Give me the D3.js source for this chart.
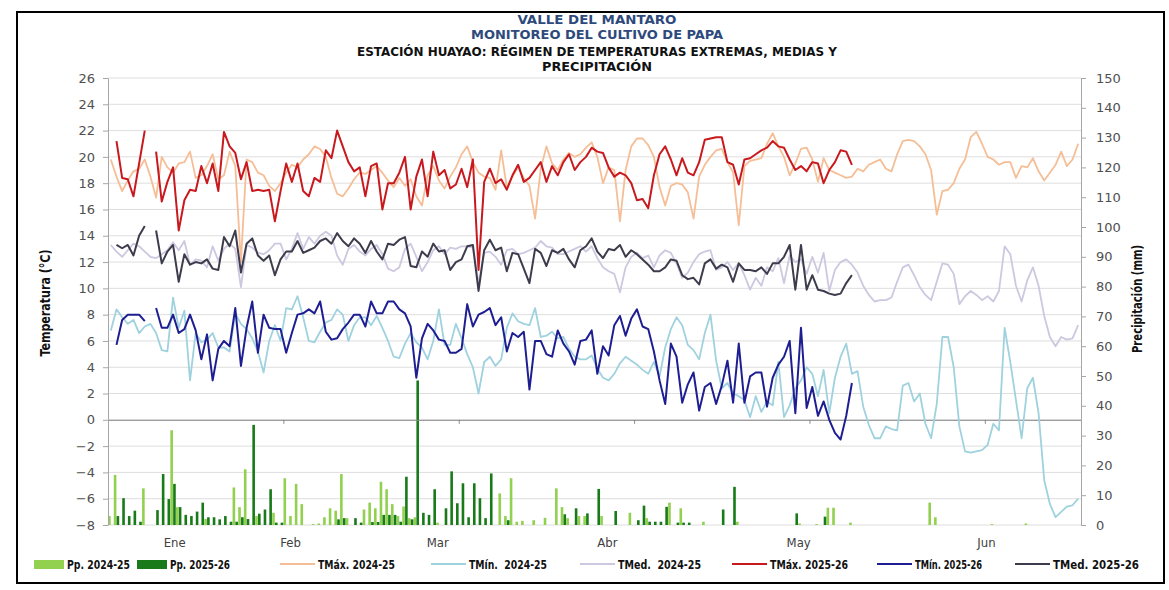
<!DOCTYPE html>
<html><head><meta charset="utf-8">
<script src="https://cdn.jsdelivr.net/npm/d3@7"></script>
<style>body{margin:0;background:#fff}</style>
</head><body><svg id="c" width="1169" height="590"></svg>
<script>
// ---------- DATA ----------
const titleLines = ["VALLE DEL MANTARO","MONITOREO DEL CULTIVO DE PAPA","ESTACIÓN HUAYAO: RÉGIMEN DE TEMPERATURAS EXTREMAS, MEDIAS Y","PRECIPITACIÓN"];
const months = ["Ene","Feb","Mar","Abr","May","Jun"];
const monthLabelDay = [11.2, 31.7, 57.7, 87.7, 121.5, 154.7];
const monthTickDay = [30.5, 61.5, 92.5, 123.5, 154.5];
const tempTicks = d3.range(-8, 27, 2);
const ppTicks = d3.range(0, 151, 10);
const nDays = 172;

const tmax2425 = [
19.8,18.5,17.4,18.2,18.9,19.1,19.8,18.5,16.9,20.0,
19.2,18.8,19.5,19.6,20.4,18.4,18.6,19.3,20.2,18.3,
18.6,20.4,19.3,12.0,19.8,19.6,18.8,18.6,17.8,17.4,
18.0,18.8,19.4,19.2,19.8,20.2,20.8,20.6,20.0,18.4,
17.2,17.0,17.6,18.3,18.8,18.7,19.0,19.3,18.8,18.2,
17.7,18.4,17.8,18.3,17.0,16.3,18.6,19.3,18.2,17.6,
18.5,19.2,20.2,20.8,19.6,18.8,18.5,18.4,17.5,20.5,
17.7,18.5,19.2,18.4,17.8,15.3,19.1,20.8,19.5,19.0,
19.8,20.3,20.0,20.2,20.7,21.1,20.0,18.0,19.2,19.0,
15.1,19.0,20.8,21.4,21.4,20.9,20.0,17.7,16.3,17.8,
18.0,17.9,17.3,15.3,18.5,19.4,20.0,20.5,20.6,19.6,
18.8,14.8,19.3,19.7,19.8,19.9,21.0,21.8,20.8,20.0,
18.6,19.5,20.6,20.7,19.8,18.1,19.9,19.0,18.8,18.6,
18.4,18.5,19.1,18.9,19.4,19.6,19.8,19.1,18.9,20.2,
21.2,21.3,21.2,20.8,20.2,19.0,15.6,17.4,17.5,18.0,
19.1,19.8,21.5,21.9,21.0,20.0,19.8,19.4,19.6,19.6,
18.4,19.3,19.2,19.9,18.9,18.2,18.8,19.4,20.4,19.3,
19.8,21.0];

const tmin2425 = [
6.8,8.4,7.8,7.3,7.6,6.6,7.1,7.3,6.6,5.3,
5.2,9.3,7.0,8.3,3.0,6.6,5.9,6.1,6.6,5.5,
5.5,5.2,8.1,7.3,6.9,6.2,5.2,3.6,6.0,7.2,
6.0,8.5,8.4,9.4,7.8,6.0,5.9,6.7,7.4,7.6,
8.4,8.0,6.0,7.2,7.8,7.8,7.2,7.9,7.0,6.0,
4.8,4.7,5.8,6.6,5.9,5.5,4.6,6.0,8.4,5.7,
5.7,7.3,6.2,5.0,4.0,2.0,4.4,4.8,4.1,4.6,
7.0,8.1,7.5,7.3,7.2,8.5,6.3,6.4,6.7,6.2,
6.3,5.4,4.8,4.6,4.6,4.9,3.9,3.2,3.0,3.5,
4.3,4.8,4.5,4.2,3.8,3.5,4.4,3.3,5.5,6.9,
7.8,7.2,5.7,5.3,4.6,6.6,8.0,4.5,2.4,2.8,
2.0,1.8,1.5,0.2,1.8,0.6,1.4,1.1,4.4,0.2,
1.1,2.4,3.0,4.0,3.5,1.8,3.8,0.5,3.2,4.8,
5.8,3.5,3.7,1.0,-0.4,-1.4,-1.4,-0.5,-0.7,-0.8,
2.6,2.8,1.4,2.0,-0.3,-1.4,1.2,6.3,6.3,4.0,
-0.5,-2.4,-2.5,-2.4,-2.3,-1.9,-0.3,-0.8,7.0,4.4,
1.5,-1.4,2.4,3.2,0.5,-4.6,-6.4,-7.4,-7.0,-6.6,
-6.5,-6.0];

const tmed2425 = [
13.3,12.8,12.4,12.9,13.4,13.2,12.8,12.4,12.3,12.6,
12.9,13.5,12.9,13.6,11.8,12.2,12.1,11.6,13.2,12.1,
13.0,13.4,13.0,10.1,13.3,13.1,12.7,12.6,12.9,13.4,
13.4,12.2,13.0,14.2,13.0,13.9,13.4,14.0,14.3,14.0,
12.5,11.8,13.0,13.3,12.8,12.5,13.0,13.3,12.6,11.5,
11.3,11.6,13.0,13.4,12.4,11.3,12.0,12.9,13.2,12.6,
13.1,13.0,13.2,13.2,13.1,10.4,12.7,12.8,12.4,11.8,
12.9,13.0,12.6,12.7,12.9,13.1,13.6,13.2,13.1,12.6,
12.6,12.8,13.0,13.2,12.8,13.2,12.3,11.6,11.3,11.1,
9.7,11.6,12.4,12.7,12.3,12.5,11.6,12.5,12.9,12.7,
11.9,10.8,11.2,12.0,12.6,12.8,12.9,11.4,11.6,12.0,
11.4,11.9,11.0,9.9,10.8,10.2,11.6,11.3,12.3,10.4,
12.5,12.0,12.2,11.1,12.4,11.2,12.7,9.8,11.4,12.0,
12.2,11.8,11.2,10.2,9.5,9.0,9.1,9.1,9.3,10.5,
11.6,11.8,11.0,10.1,9.5,9.1,10.5,11.9,11.8,11.1,
8.8,9.4,9.8,9.5,9.1,9.4,9.0,9.8,13.2,12.6,
10.2,9.0,10.6,11.6,10.2,7.9,6.3,5.6,6.3,6.1,
6.2,7.2];

const tmax2526 = [
null,21.2,18.4,18.3,17.0,19.5,22.0,null,20.4,16.6,
18.1,19.2,14.4,16.7,17.5,17.4,19.3,18.0,19.5,17.4,
21.9,20.8,20.3,18.3,19.6,17.4,17.5,17.4,17.5,15.1,
17.4,19.5,18.1,19.5,17.4,17.0,18.4,18.1,20.5,19.9,
22.0,20.8,19.6,18.9,19.2,17.0,19.3,19.5,16.0,18.0,
18.0,18.8,20.0,16.0,18.5,19.8,17.0,20.4,18.6,19.0,
17.6,17.9,19.1,17.7,19.8,11.4,18.1,19.1,18.0,18.3,
17.5,18.6,19.4,18.1,18.4,19.0,19.6,18.1,19.3,18.6,
19.6,20.2,19.0,19.6,20.0,20.7,20.4,20.3,19.2,18.5,
18.8,18.6,18.0,16.7,16.8,16.1,18.6,20.2,20.8,19.8,
18.6,19.9,18.8,18.6,19.6,21.3,21.4,21.5,21.5,19.6,
19.4,17.9,19.8,19.9,20.2,20.5,20.7,21.2,20.8,20.7,
19.8,19.0,19.3,18.9,19.6,19.5,18.0,19.0,19.6,20.5,
20.4,19.4];

const tmin2526 = [
null,5.7,7.6,8.0,8.0,8.0,7.5,null,8.5,7.0,
7.0,8.0,6.6,6.9,8.0,6.8,4.6,6.5,3.0,5.4,
6.0,5.6,8.5,4.1,7.0,9.0,5.1,8.0,7.0,6.9,
6.9,5.1,6.6,8.0,8.1,8.4,8.1,9.0,6.7,6.1,
6.2,6.9,7.4,8.0,8.0,7.1,9.0,8.1,8.1,9.0,
9.0,8.4,8.1,7.1,3.2,6.2,7.3,6.8,6.1,6.0,
5.1,5.1,5.4,8.8,7.1,8.0,8.2,8.5,7.2,7.8,
5.2,6.6,6.3,6.7,2.3,6.0,6.0,5.0,4.8,6.8,
5.8,5.2,4.2,6.0,6.1,6.8,3.5,5.6,4.9,7.2,
7.9,6.4,7.7,8.4,7.1,6.9,5.2,3.0,1.2,5.8,
4.8,1.3,2.7,3.6,0.7,2.5,2.8,1.2,2.6,4.5,
1.3,5.8,1.3,3.3,3.6,3.6,1.0,3.2,4.2,4.8,
6.0,0.5,7.0,0.9,2.5,0.3,1.4,0.0,-1.0,-1.5,
0.3,2.8];

const tmed2526 = [
null,13.3,13.05,13.3,12.5,14.0,14.75,null,14.4,11.9,
12.8,13.3,10.5,12.6,11.8,12.0,11.9,12.2,11.5,11.4,
13.9,13.2,14.4,11.2,13.4,13.8,12.5,12.1,12.5,11.0,
12.2,12.8,12.8,13.6,12.7,12.9,13.1,13.6,13.8,13.4,
14.2,13.6,13.2,13.8,13.4,12.7,13.6,12.8,12.2,13.4,
13.3,13.7,13.9,11.7,11.6,12.8,12.4,13.4,12.8,12.9,
11.4,12.0,12.2,13.2,13.3,9.8,12.9,13.7,12.9,13.1,
11.3,12.7,12.6,11.5,10.4,13.0,12.7,11.7,12.9,12.7,
13.0,12.2,11.6,12.9,13.2,13.8,12.8,12.3,13.0,12.9,
13.3,12.4,12.9,12.6,12.2,11.8,11.3,11.3,11.6,12.2,
12.1,11.0,10.7,10.8,10.3,11.9,12.2,11.5,11.8,11.6,
10.5,11.9,11.4,11.4,11.3,11.6,11.1,11.9,11.9,12.4,
13.3,9.9,13.3,9.9,11.0,9.9,9.8,9.6,9.5,9.6,
10.4,11.0];

const pp2425 = [
3.0,16.8,0,0,0,0,12.3,0,0,0,
0,31.8,6.0,0,0,0,0,2.0,0,0,
0,0,12.6,6.0,18.7,0,3.0,0,0,4.1,
0,15.7,3.0,13.8,7.0,0,0.3,0.5,2.6,5.6,
4.8,17.1,2.3,0,0,5.2,7.5,5.6,14.5,12.0,
7.0,3.0,6.2,2.3,2.6,0,0,0,0.8,0,
0,0,0,0,0,0,0,0,0,10.6,
3.0,15.7,1.1,1.4,0,1.6,0,2.4,0,12.3,
6.0,2.3,0,3.0,3.0,0,0,3.0,0,0,
0,0,4.1,0,0,2.3,0,0,0,7.5,
0,5.6,0,0,0,1.1,0,0,0,0,
0,1.1,0,0,0,0,0,0,0,0,
0,0,0.5,0,0,0.3,0,5.8,5.8,0,
0,0.8,0,0,0,0,0,0,0,0,
0,0,0,0,0,7.5,2.6,0,0,0,
0,0,0,0,0,0,0.3,0,0,0,
0,0,0.5,0,0,0,0,0,0,0,
0,0];

const pp2526 = [
0,3.0,9.0,3.0,4.8,1.1,0,0,5.0,17.1,
8.7,13.8,6.0,3.4,3.0,4.5,7.5,2.6,2.6,1.9,
3.0,1.1,1.1,2.6,2.0,33.6,3.8,5.2,12.0,0.8,
0.8,0,0,0,0,0,0,0,0,0,
1.9,2.3,0,2.3,0.8,0,1.0,1.0,3.4,3.4,
3.4,1.1,16.2,1.9,48.5,4.1,3.4,12.0,0,5.6,
18.0,7.3,14.0,2.6,14.0,9.0,2.3,17.3,0,0,
1.6,0,0,0,0,0,0,0,0,0,
3.6,0,5.6,0,3.9,0,12.1,0,0,4.7,
0,0,0,1.6,6.5,1.1,1.1,1.1,6.1,0,
0.8,0.8,0.8,0,0,0,0,0,5.2,0,
12.8,0,0,0,0,0,0,0,0,0,
0,3.9,0,0,0,0,2.8,0,0,0,
0,0];

// ---------- STYLE / LAYOUT ----------
const C = {
  pp2425:"#92D050", pp2526:"#187A18",
  tmax2425:"#F5BE96", tmin2425:"#9FD2DE", tmed2425:"#CDC7E0",
  tmax2526:"#C8191E", tmin2526:"#1E1E92", tmed2526:"#3C3C4C"
};
const W = 1169, H = 590;
const plot = {l:108, r:1081, t:78, b:525};
const FONT = "'DejaVu Sans Condensed','Liberation Sans',sans-serif";

const svg = d3.select("#c");
svg.append("rect").attr("width",W).attr("height",H).attr("fill","#fff");
svg.append("rect").attr("x",17).attr("y",12).attr("width",1147).attr("height",571)
   .attr("fill","none").attr("stroke","#000").attr("stroke-width",2);

const x = d3.scaleLinear().domain([-0.5, nDays-0.5]).range([plot.l, plot.r]);
const yT = d3.scaleLinear().domain([-8,26]).range([plot.b, plot.t]);
const yP = d3.scaleLinear().domain([0,150]).range([plot.b, plot.t]);

// title
const tl = svg.append("g").attr("font-family",FONT).attr("font-weight","bold").attr("text-anchor","middle");
const tY = [24, 39, 56, 71], tC = ["#2E4A7D","#2E4A7D","#111","#111"], tS=[12.5,12.5,12,12], tW=[159,252,480,110];
titleLines.forEach((t,i)=>tl.append("text").attr("x",597).attr("y",tY[i]).attr("fill",tC[i]).attr("font-size",tS[i])
  .attr("textLength",tW[i]).attr("lengthAdjust","spacingAndGlyphs").text(t));

// gridlines
svg.append("g").selectAll("line").data(tempTicks).join("line")
  .attr("x1",plot.l).attr("x2",plot.r).attr("y1",d=>yT(d)).attr("y2",d=>yT(d))
  .attr("stroke","#dedede").attr("stroke-width",1);

// bars
const bw = 2.6;
svg.append("g").selectAll("rect").data(pp2425.map((v,i)=>({v,i})).filter(d=>d.v>0)).join("rect")
  .attr("x",d=>x(d.i)-bw-0.1).attr("width",bw).attr("y",d=>yP(d.v)).attr("height",d=>yP(0)-yP(d.v))
  .attr("fill",C.pp2425);
svg.append("g").selectAll("rect").data(pp2526.map((v,i)=>({v,i})).filter(d=>d.v>0)).join("rect")
  .attr("x",d=>x(d.i)+0.1).attr("width",bw).attr("y",d=>yP(d.v)).attr("height",d=>yP(0)-yP(d.v))
  .attr("fill",C.pp2526);

// zero line (category axis)
const xAxis = d3.axisBottom(x).tickValues(monthTickDay).tickSize(4).tickFormat("").tickSizeOuter(0);
const gx = svg.append("g").attr("transform",`translate(0,${yT(0)})`).call(xAxis);
gx.select(".domain").attr("stroke","#8a8a8a");
gx.selectAll(".tick line").attr("stroke","#8a8a8a");

// month labels
const mAxis = d3.axisBottom(x).tickValues(monthLabelDay).tickSize(0).tickPadding(0).tickFormat((d,i)=>months[i]);
const gm = svg.append("g").attr("transform",`translate(0,${plot.b+13})`).call(mAxis);
gm.select(".domain").remove();
gm.selectAll("text").attr("font-family",FONT).attr("font-size",13).attr("fill","#404040");

// lines
const line = d3.line().defined(d=>d!=null).x((d,i)=>x(i)).y(d=>yT(d));
const series = [
  [tmax2425,C.tmax2425,1.8],[tmin2425,C.tmin2425,1.8],[tmed2425,C.tmed2425,1.8],
  [tmax2526,C.tmax2526,2],[tmin2526,C.tmin2526,2],[tmed2526,C.tmed2526,2]
];
const lg = svg.append("g").attr("fill","none").attr("stroke-linejoin","round");
series.forEach(([d,c,w])=>{
  lg.append("path").attr("d",line(d)).attr("stroke",c).attr("stroke-width",w);
});

// axes
const yl = d3.axisLeft(yT).tickValues(tempTicks).tickSize(5).tickSizeOuter(0).tickPadding(8);
const gyl = svg.append("g").attr("transform",`translate(${plot.l},0)`).call(yl);
const yr = d3.axisRight(yP).tickValues(ppTicks).tickSize(5).tickSizeOuter(0).tickPadding(10);
const gyr = svg.append("g").attr("transform",`translate(${plot.r},0)`).call(yr);
[gyl,gyr].forEach(g=>{
  g.select(".domain").attr("stroke","#a6a6a6");
  g.selectAll(".tick line").attr("stroke","#a6a6a6");
  g.selectAll("text").attr("font-family","'DejaVu Sans',sans-serif").attr("font-size",13).attr("fill","#505050");
});

// axis titles
svg.append("text").attr("transform","translate(50,303) rotate(-90)").attr("text-anchor","middle")
  .attr("font-family",FONT).attr("font-weight","bold").attr("font-size",13.5).attr("fill","#111")
  .attr("textLength",107).attr("lengthAdjust","spacingAndGlyphs").text("Temperatura (°C)");
svg.append("text").attr("transform","translate(1142,299) rotate(-90)").attr("text-anchor","middle")
  .attr("font-family",FONT).attr("font-weight","bold").attr("font-size",13.5).attr("fill","#111")
  .attr("textLength",108).attr("lengthAdjust","spacingAndGlyphs").text("Precipitación (mm)");

// legend
const legendItems = [
  ["Pp. 2024-25","box",C.pp2425],["Pp. 2025-26","box",C.pp2526],
  ["TMáx. 2024-25","line",C.tmax2425],["TMín.  2024-25","line",C.tmin2425],["TMed.  2024-25","line",C.tmed2425],
  ["TMáx. 2025-26","line",C.tmax2526],["TMín. 2025-26","line",C.tmin2526],["TMed. 2025-26","line",C.tmed2526]
];
const legendX = [34,137,280,431,580,732,877,1015];
const legendW = [63,60,77,78,83,78,67,86];
const legY = 564;
const leg = svg.append("g").attr("font-family",FONT).attr("font-weight","bold").attr("font-size",12).attr("fill","#111");
legendItems.forEach(([t,k,c],i)=>{
  const lx = legendX[i];
  let tx;
  if(k==="box"){
    leg.append("rect").attr("x",lx).attr("y",legY-4).attr("width",30).attr("height",9).attr("fill",c);
    tx = lx+33;
  } else {
    leg.append("line").attr("x1",lx).attr("x2",lx+35).attr("y1",legY).attr("y2",legY).attr("stroke",c).attr("stroke-width",2);
    tx = lx+38;
  }
  leg.append("text").attr("x",tx).attr("y",legY+4.5).attr("xml:space","preserve")
    .attr("textLength",legendW[i]).attr("lengthAdjust","spacingAndGlyphs").text(t);
});
</script>
</body></html>
